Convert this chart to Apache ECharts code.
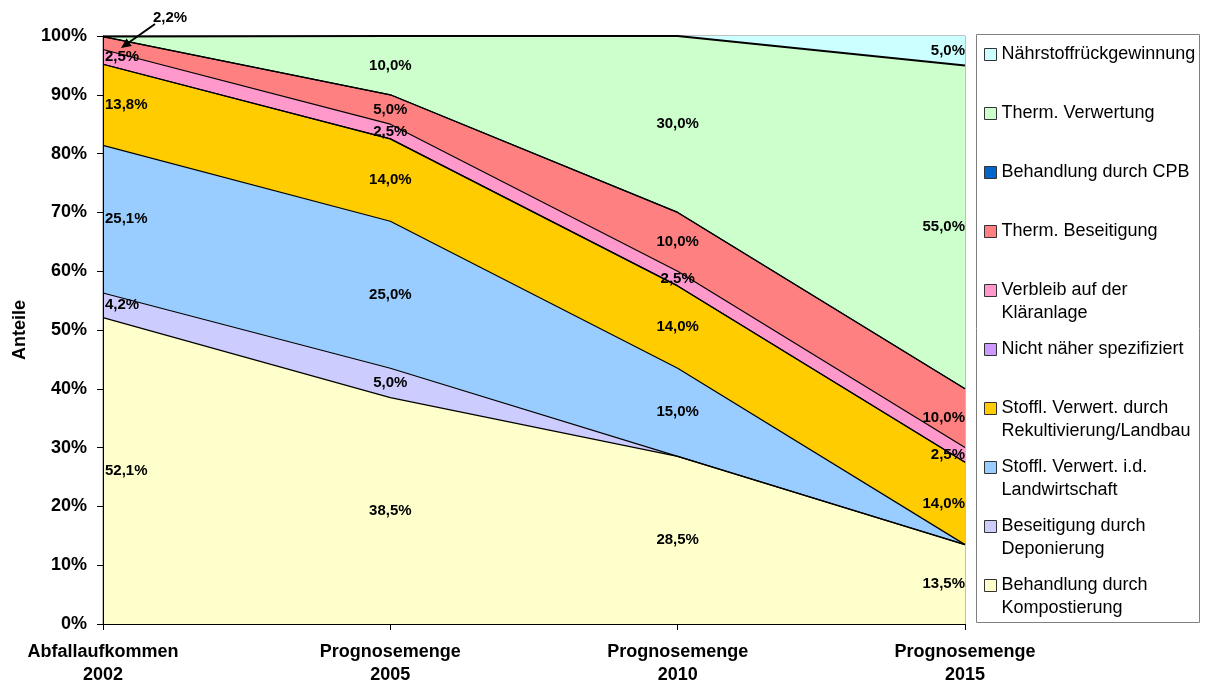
<!DOCTYPE html>
<html>
<head>
<meta charset="utf-8">
<title>Entsorgungswege Anteile</title>
<script src="https://cdn.jsdelivr.net/npm/echarts@6/dist/echarts.min.js"></script>
<style>
html, body { margin: 0; padding: 0; background: #fff; }
#chart { width: 1205px; height: 688px; }
</style>
</head>
<body>
<div id="chart"></div>
<script>
// Kategorien (x-Achse)
const categories = ['Abfallaufkommen\n2002', 'Prognosemenge\n2005', 'Prognosemenge\n2010', 'Prognosemenge\n2015'];

// Anteile in %, Reihenfolge von unten nach oben gestapelt
const kompostierung     = [52.1, 38.5, 28.5, 13.5];
const deponierung       = [4.2, 5.0, 0, 0];
const landwirtschaft    = [25.1, 25.0, 15.0, 0];
const rekultivierung    = [13.8, 14.0, 14.0, 14.0];
const nichtSpezifiziert = [0, 0, 0, 0];
const klaeranlage       = [2.5, 2.5, 2.5, 2.5];
const thermBeseitigung  = [2.2, 5.0, 10.0, 10.0];
const cpb               = [0, 0, 0, 0];
const thermVerwertung   = [0, 10.0, 30.0, 55.0];
const naehrstoff        = [0, 0, 0, 5.0];

const seriesNames = [
    'Behandlung durch\nKompostierung',
    'Beseitigung durch\nDeponierung',
    'Stoffl. Verwert. i.d.\nLandwirtschaft',
    'Stoffl. Verwert. durch\nRekultivierung/Landbau',
    'Nicht näher spezifiziert',
    'Verbleib auf der\nKläranlage',
    'Therm. Beseitigung',
    'Behandlung durch CPB',
    'Therm. Verwertung',
    'Nährstoffrückgewinnung'
];
const seriesData = [kompostierung, deponierung, landwirtschaft, rekultivierung, nichtSpezifiziert,
    klaeranlage, thermBeseitigung, cpb, thermVerwertung, naehrstoff];
const colors = ['#FFFFCC', '#CCCCFF', '#99CCFF', '#FFCC00', '#CC99FF',
    '#FF99CC', '#FF8080', '#0066CC', '#CCFFCC', '#CCFFFF'];

// 2,2% wird mit Pfeil beschriftet
const callout = { series: 6, cat: 0 };

const fontFamily = 'Arial, "Liberation Sans", sans-serif';
const fmt = v => v.toFixed(1).replace('.', ',') + '%';

const chart = echarts.init(document.getElementById('chart'));

// Flächen
const areaSeries = seriesNames.map((name, k) => ({
    name: name,
    type: 'line',
    stack: 'total',
    symbol: 'none',
    clip: false,
    data: seriesData[k],
    // oberste Linie (Therm. Verwertung) etwas kräftiger, Nährstoff ohne Rand
    lineStyle: { color: '#000', width: k === 9 ? 0 : (k === 8 ? 2 : 1.2) },
    areaStyle: { color: colors[k], opacity: 1 },
    z: 2
}));

// Beschriftungen in der Mitte jedes Bandes
const labelPoints = [];
let calloutMid = 0;
categories.forEach((c, i) => {
    let cum = 0;
    seriesData.forEach((arr, k) => {
        const v = arr[i];
        const mid = cum + v / 2;
        cum += v;
        if (v <= 0) return;
        const pos = i === 0 ? 'right' : (i === categories.length - 1 ? 'left' : 'inside');
        const item = { value: [i, mid], txt: fmt(v), label: { position: pos, distance: i === 0 ? 2 : 0 } };
        if (k === callout.series && i === callout.cat) {
            calloutMid = mid;
            item.label = { position: 'inside', offset: [67, -25] };
        }
        labelPoints.push(item);
    });
});

const legendData = seriesNames.slice().reverse().map(n => ({
    name: n,
    itemStyle: { color: colors[seriesNames.indexOf(n)] }
}));

const option = {
    animation: false,
    textStyle: { fontFamily: fontFamily },
    grid: { left: 103, right: 240, top: 36, bottom: 64, outerBoundsMode: 'none',
        show: true, borderColor: '#808080', borderWidth: 1, backgroundColor: 'transparent' },
    legend: {
        orient: 'vertical',
        left: 984,
        top: 20,
        padding: 0,
        itemGap: -10,
        itemWidth: 12,
        itemHeight: 12,
        itemStyle: { borderColor: '#333', borderWidth: 1 },
        icon: 'rect',
        selectedMode: false,
        textStyle: { fontSize: 18, lineHeight: 23, color: '#000', fontFamily: fontFamily },
        formatter: n => ' \n' + n + (n.indexOf('\n') >= 0 ? '' : '\n '),
        data: legendData
    },
    xAxis: {
        type: 'category',
        boundaryGap: false,
        data: categories,
        axisLine: { lineStyle: { color: '#000', width: 1 } },
        axisTick: { length: 6, lineStyle: { color: '#000' } },
        axisLabel: { interval: 0, margin: 17, fontSize: 18, fontWeight: 'bold', lineHeight: 23, color: '#000' },
        z: 10
    },
    yAxis: {
        type: 'value',
        min: 0,
        max: 100,
        interval: 10,
        name: 'Anteile',
        nameLocation: 'middle',
        nameRotate: 90,
        nameGap: 74,
        nameTextStyle: { fontSize: 18, fontWeight: 'bold', color: '#000' },
        axisLine: { show: true, lineStyle: { color: '#000', width: 1 } },
        axisTick: { show: true, length: 6, lineStyle: { color: '#000' } },
        splitLine: { show: false },
        axisLabel: { formatter: '{value}%', margin: 16, fontSize: 18, fontWeight: 'bold', color: '#000' },
        z: 10
    },
    series: areaSeries.concat([{
        type: 'scatter',
        name: 'labels',
        symbolSize: 0,
        itemStyle: { color: '#000' },
        clip: false,
        silent: true,
        z: 5,
        data: labelPoints,
        label: {
            show: true,
            formatter: p => p.data.txt,
            fontSize: 15,
            fontWeight: 'bold',
            color: '#000',
            opacity: 1,
            textBorderWidth: 0,
            textBorderColor: 'transparent'
        }
    }])
};

chart.setOption(option);

// Pfeil zur 2,2%-Beschriftung und Rahmen der Legende
const p = chart.convertToPixel({ gridIndex: 0 }, [callout.cat, calloutMid]);
const tip = [p[0] + 18, p[1] + 5];
const tail = [p[0] + 52, p[1] - 19];
const dx = tip[0] - tail[0], dy = tip[1] - tail[1];
const len = Math.sqrt(dx * dx + dy * dy);
const ux = dx / len, uy = dy / len;
const hl = 10, hw = 4.5;
const base = [tip[0] - ux * hl, tip[1] - uy * hl];

chart.setOption({
    graphic: [
        {
            type: 'rect',
            shape: { x: 976.5, y: 34.5, width: 223, height: 588 },
            style: { fill: 'transparent', stroke: '#808080', lineWidth: 1 },
            silent: true
        },
        {
            type: 'line',
            shape: { x1: tail[0], y1: tail[1], x2: base[0], y2: base[1] },
            style: { stroke: '#000', lineWidth: 2 },
            z: 20
        },
        {
            type: 'polygon',
            shape: { points: [tip, [base[0] - uy * hw, base[1] + ux * hw], [base[0] + uy * hw, base[1] - ux * hw]] },
            style: { fill: '#000' },
            z: 20
        }
    ]
});
</script>
</body>
</html>
